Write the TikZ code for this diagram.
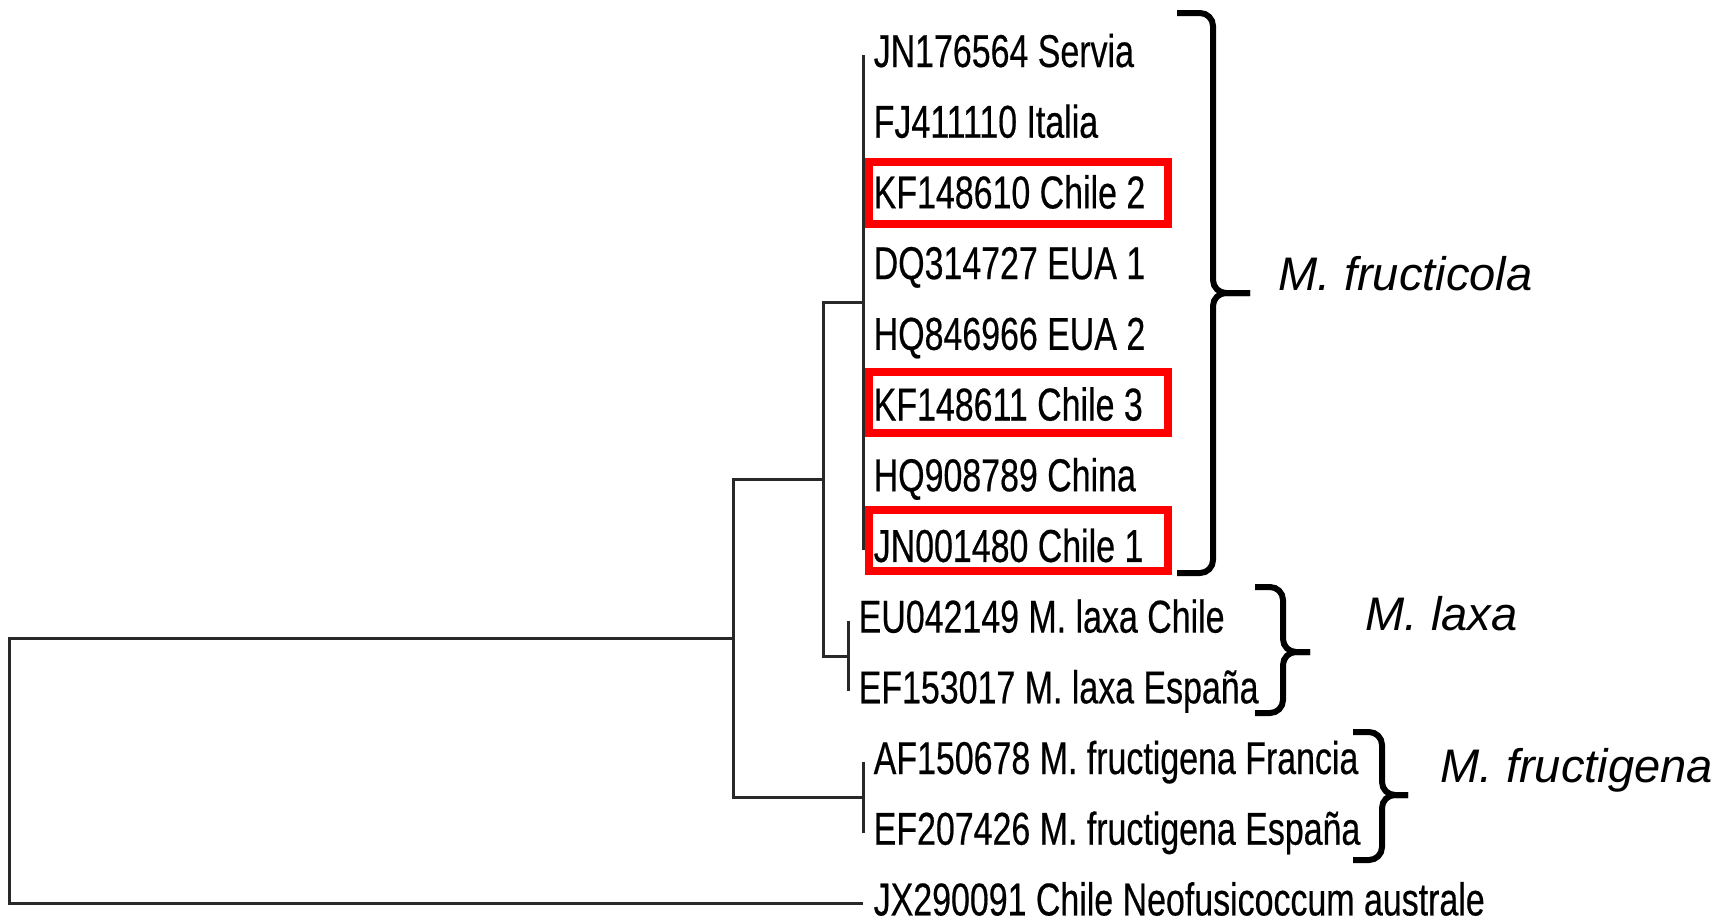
\documentclass[tikz,border=0pt]{standalone}
\usepackage{fontspec}
\usepackage{tikz}
\usetikzlibrary{
	calc,
	positioning
}
\newfontfamily\leaffont{Liberation Sans}[FakeStretch=0.737, FakeBold=0.4]
\newfontfamily\cladefont{Liberation Sans}
\definecolor{BoxRed}{RGB}{255,0,0}
\definecolor{TreeGray}{RGB}{40,40,40}

\begin{document}
\begin{tikzpicture}[x=0.1mm, y=-0.1mm,
		branch/.style={draw=TreeGray, line width=0.3mm},
		leaf/.style={anchor=base west, inner sep=0pt, xshift=1mm, yshift=-1.2mm,
			font=\leaffont\fontsize{13.1pt}{15pt}\selectfont},
		clade/.style={anchor=base west, inner sep=0pt,
			font=\cladefont\itshape\fontsize{13.4pt}{16pt}\selectfont},
		redbox/.style={draw=BoxRed, line width=0.8mm},
		bracket/.style={draw=black, line width=0.6mm, rounded corners=1.3mm}]
			\useasboundingbox (0,0) rectangle (1734,920);
			% tips
			\coordinate (t0) at (863,55);
			\coordinate (t1) at (863,125.7);
			\coordinate (t2) at (863,196.4);
			\coordinate (t3) at (863,267.1);
			\coordinate (t4) at (863,337.8);
			\coordinate (t5) at (863,408.5);
			\coordinate (t6) at (863,479.2);
			\coordinate (t7) at (863,549.9);
			\coordinate (t8) at (848,620.6);
			\coordinate (t9) at (848,691.3);
			\coordinate (t10) at (863,762);
			\coordinate (t11) at (863,832.7);
			\coordinate (t12) at (863,903.4);
			% inner nodes
			\coordinate (nFc) at (863,302.5);
			\coordinate (nLx) at (848,656);
			\coordinate (nFg) at (863,797.4);
			\coordinate (nB) at (823,479.2);
			\coordinate (nA) at (733,638.3);
			\coordinate (nR) at (9,770.9);
			% branches
			\draw[branch] (t0) -- (t7);
			\draw[branch] (t8) -- (t9);
			\draw[branch] (t10) -- (t11);
			\draw[branch] (nFc) -| (nB) |- (nLx);
			\draw[branch] (nB) -| (nA) |- (nFg);
			\draw[branch] (nA) -| (nR) |- (t12);
			% labels
			\node[leaf] (l0) at (t0) {JN176564 Servia};
			\node[leaf] (l1) at (t1) {FJ411110 Italia};
			\node[leaf] (l2) at (t2) {KF148610 Chile 2};
			\node[leaf] (l3) at (t3) {DQ314727 EUA 1};
			\node[leaf] (l4) at (t4) {HQ846966 EUA 2};
			\node[leaf] (l5) at (t5) {KF148611 Chile 3};
			\node[leaf] (l6) at (t6) {HQ908789 China};
			\node[leaf] (l7) at (t7) {JN001480 Chile 1};
			\node[leaf] (l8) at (t8) {EU042149 M. laxa Chile};
			\node[leaf] (l9) at (t9) {EF153017 M. laxa España};
			\node[leaf] (l10) at (t10) {AF150678 M. fructigena Francia};
			\node[leaf] (l11) at (t11) {EF207426 M. fructigena España};
			\node[leaf] (l12) at (t12) {JX290091 Chile Neofusicoccum australe};
			% chilean isolates
			\draw[redbox] ($(t2)+(6,-34)$) rectangle ($(t2)+(305,28)$);
			\draw[redbox] ($(t5)+(6,-36.5)$) rectangle ($(t5)+(305,24.5)$);
			\draw[redbox] ($(t7)+(6,-40)$) rectangle ($(t7)+(305,21)$);
			% brackets
			\draw[bracket] (1177,13) -| (1213,293) -- (1250,293);
			\draw[bracket] (1250,293) -- (1213,293) |- (1177,573);
			\draw[bracket] (1255,587) -| (1283,652) -- (1310,652);
			\draw[bracket] (1310,652) -- (1283,652) |- (1255,713);
			\draw[bracket] (1353,732) -| (1382,795) -- (1408,795);
			\draw[bracket] (1408,795) -- (1382,795) |- (1353,860);
			\node[clade] (cFc) at (1278,290) {M. fructicola};
			\node[clade] (cLx) at (1365,630) {M. laxa};
			\node[clade] (cFg) at (1440,782) {M. fructigena};
		\end{tikzpicture}
\end{document}
